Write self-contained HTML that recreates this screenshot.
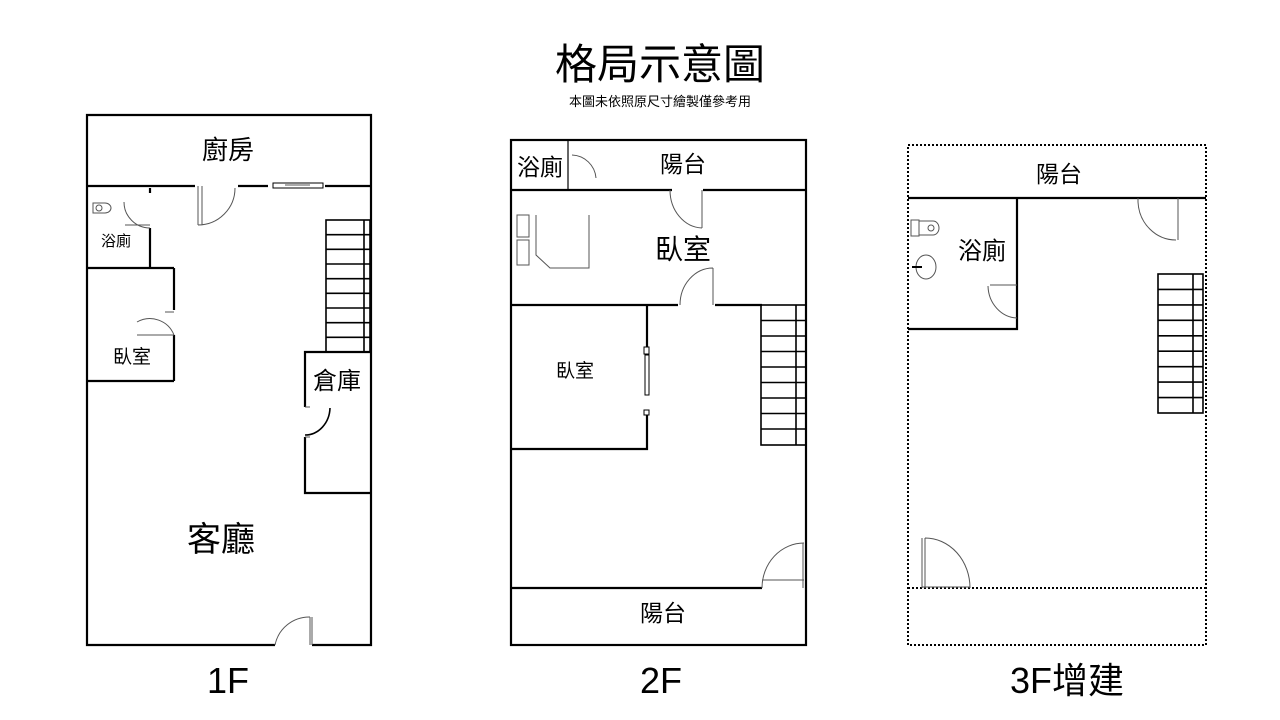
<!DOCTYPE html>
<html><head><meta charset="utf-8"><style>
body{margin:0;background:#fff;}
svg{display:block}
text{font-family:"Liberation Sans","Noto Sans CJK TC",sans-serif;fill:#000}
</style></head><body>
<svg width="1280" height="720" viewBox="0 0 1280 720" xmlns="http://www.w3.org/2000/svg">
<text x="660" y="79" font-size="42" text-anchor="middle">格局示意圖</text>
<text x="660" y="106" font-size="13" text-anchor="middle">本圖未依照原尺寸繪製僅參考用</text>

<g stroke="#000" stroke-width="2.2" fill="none">
<polyline points="275,645 87,645 87,115 371,115 371,645 312,645"/>
<line x1="87" y1="186" x2="195" y2="186"/>
<line x1="238" y1="186" x2="268" y2="186"/>
<line x1="325" y1="186" x2="371" y2="186"/>
<line x1="150" y1="188" x2="150" y2="193"/>
<line x1="150" y1="228" x2="150" y2="268"/>
<line x1="87" y1="268" x2="174" y2="268"/>
<line x1="174" y1="268" x2="174" y2="310"/>
<line x1="174" y1="335" x2="174" y2="381"/>
<line x1="87" y1="381" x2="174" y2="381"/>
<polyline points="305,407 305,352 371,352"/>
<polyline points="305,437 305,493 371,493"/>
<rect x="326" y="220" width="44" height="132" stroke-width="1.6"/>
<line x1="364" y1="220" x2="364" y2="352" stroke-width="1.6"/>
<rect x="511" y="140" width="295" height="505"/>
<line x1="511" y1="190" x2="672" y2="190"/>
<line x1="703" y1="190" x2="806" y2="190"/>
<line x1="568" y1="140" x2="568" y2="190" stroke-width="1.2"/>
<line x1="511" y1="305" x2="678" y2="305"/>
<line x1="715" y1="305" x2="762" y2="305"/>
<polyline points="511,449 647,449 647,415"/>
<line x1="647" y1="305" x2="647" y2="347"/>
<line x1="511" y1="588" x2="762" y2="588"/>
<rect x="761" y="305" width="45" height="140" stroke-width="1.6"/>
<line x1="796" y1="305" x2="796" y2="445" stroke-width="1.6"/>
<line x1="908" y1="198" x2="1206" y2="198"/>
<polyline points="908,329 1017,329 1017,198"/>
<rect x="1158" y="274" width="45" height="139" stroke-width="1.6"/>
<line x1="1193" y1="274" x2="1193" y2="413" stroke-width="1.6"/>
</g>
<g stroke="#000" stroke-width="1.6">
<line x1="326" y1="234.7" x2="370" y2="234.7"/><line x1="326" y1="249.3" x2="370" y2="249.3"/><line x1="326" y1="264" x2="370" y2="264"/><line x1="326" y1="278.7" x2="370" y2="278.7"/><line x1="326" y1="293.3" x2="370" y2="293.3"/><line x1="326" y1="308" x2="370" y2="308"/><line x1="326" y1="322.7" x2="370" y2="322.7"/><line x1="326" y1="337.3" x2="370" y2="337.3"/>
<line x1="761" y1="320.5" x2="806" y2="320.5"/><line x1="761" y1="336" x2="806" y2="336"/><line x1="761" y1="351.5" x2="806" y2="351.5"/><line x1="761" y1="367" x2="806" y2="367"/><line x1="761" y1="382.5" x2="806" y2="382.5"/><line x1="761" y1="398" x2="806" y2="398"/><line x1="761" y1="413.5" x2="806" y2="413.5"/><line x1="761" y1="429" x2="806" y2="429"/>
<line x1="1158" y1="289.4" x2="1203" y2="289.4"/><line x1="1158" y1="304.9" x2="1203" y2="304.9"/><line x1="1158" y1="320.3" x2="1203" y2="320.3"/><line x1="1158" y1="335.8" x2="1203" y2="335.8"/><line x1="1158" y1="351.2" x2="1203" y2="351.2"/><line x1="1158" y1="366.7" x2="1203" y2="366.7"/><line x1="1158" y1="382.1" x2="1203" y2="382.1"/><line x1="1158" y1="397.6" x2="1203" y2="397.6"/>
</g>
<g stroke="#000" stroke-width="2" stroke-dasharray="2,2" fill="none">
<rect x="908" y="145" width="298" height="500"/>
<line x1="908" y1="588" x2="1206" y2="588"/>
</g>
<g stroke="#555" stroke-width="1" fill="none">
<path d="M198,186 V225 M202,186 V225 M198,225 A37,37 0 0 0 235,188"/>
<path d="M150,225 H125 M150,228 A26,26 0 0 1 124,202"/>
<path d="M174,312 H165 M174,335 A26,26 0 0 0 137,322 M137,335 H174"/>
<path d="M305,407 H310 M305,437 H310"/>
<path d="M330,408 A25,28 0 0 1 305,435" stroke="#000" stroke-width="1.6"/>
<path d="M310,617 V645 M312,617 V645 M275,645 A35,35 0 0 1 310,617"/>
<rect x="273" y="183" width="50" height="5" stroke="#000"/>
<line x1="285" y1="185" x2="310" y2="185"/>
<path d="M93,203 h12 a6,5 0 0 1 0,10 h-12 z M99,208 m-3,0 a3,3 0 1 0 6,0 a3,3 0 1 0 -6,0"/>
<path d="M572,155 A25,25 0 0 1 596,178"/>
<path d="M702,190 V228 M670,190 A33,38 0 0 0 702,228"/>
<path d="M713,305 V268 M680,305 A33,37 0 0 1 713,268"/>
<path d="M762,588 A42,45 0 0 1 804,543 M803,543 V588 M762,580 H804"/>
<path d="M517,215 h12 v22 h-12 z M517,240 h12 v25 h-12 z M536,215 V255 L550,268 H589 V215"/>
<rect x="644" y="347" width="5" height="7" stroke="#000"/>
<rect x="645" y="355" width="4" height="40" stroke="#000"/>
<rect x="644" y="410" width="5" height="5" stroke="#000"/>
<path d="M1138,198 V202 M1178,198 V240 M1176,240 A38,40 0 0 1 1138,202"/>
<path d="M1017,285 H990 M1017,318 A30,33 0 0 1 988,286"/>
<path d="M922,588 V538 M925,588 V538 M925,538 A45,50 0 0 1 970,588 M922,587 H970"/>
<path d="M911,220 h8 v16 h-8 z M919,221 h14 a6,7 0 0 1 0,14 h-14 z M931,228 m-3,0 a3,3 0 1 0 6,0 a3,3 0 1 0 -6,0"/>
<ellipse cx="926" cy="267" rx="10" ry="12"/>
<line x1="912" y1="267" x2="922" y2="267" stroke="#000" stroke-width="2"/>
</g>

<g font-size="26">
<text x="228" y="159" text-anchor="middle">廚房</text>
<text x="337" y="389" text-anchor="middle" font-size="24">倉庫</text>
<text x="221" y="551" text-anchor="middle" font-size="34">客廳</text>
<text x="683" y="172" text-anchor="middle" font-size="23">陽台</text>
<text x="540" y="175" text-anchor="middle" font-size="23">浴廁</text>
<text x="683" y="259" text-anchor="middle" font-size="28">臥室</text>
<text x="663" y="621" text-anchor="middle" font-size="23">陽台</text>
<text x="1059" y="182" text-anchor="middle" font-size="23">陽台</text>
<text x="982" y="259" text-anchor="middle" font-size="24">浴廁</text>
</g>
<text x="116" y="246" text-anchor="middle" font-size="15">浴廁</text>
<text x="132" y="363" text-anchor="middle" font-size="19">臥室</text>
<text x="575" y="377" text-anchor="middle" font-size="19">臥室</text>
<text x="228" y="693" text-anchor="middle" font-size="36">1F</text>
<text x="661" y="693" text-anchor="middle" font-size="36">2F</text>
<text x="1067" y="693" text-anchor="middle" font-size="36">3F增建</text>
</svg>
</body></html>
